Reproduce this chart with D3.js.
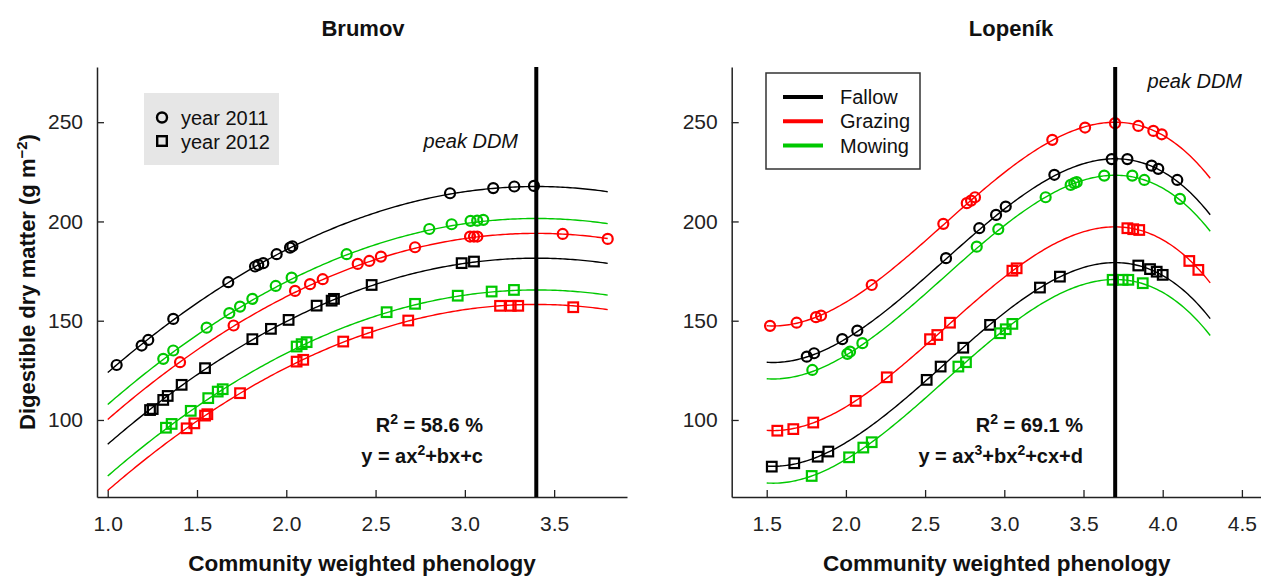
<!DOCTYPE html>
<html>
<head>
<meta charset="utf-8">
<script src="https://cdn.jsdelivr.net/npm/d3@7/dist/d3.min.js"></script>
<style>
  html, body { margin: 0; padding: 0; background: #fff; }
  svg { display: block; font-family: "Liberation Sans", Arial, sans-serif; }
</style>
</head>
<body>
<svg id="chart" width="1261" height="576"></svg>
<script>
// ---- Observations: [phenology, digestible dry matter] ----
const brumovFallow2011 = [[1.05,127.7],[1.19,137.5],[1.227,140.3],[1.367,150.9],[1.675,169.4],[1.825,177.3],[1.843,178.1],[1.871,179.0],[1.946,183.5],[2.021,186.8],[2.034,187.5],[2.917,214.2],[3.159,216.8],[3.277,217.6],[3.387,217.9]];
const brumovMowing2011 = [[1.311,130.8],[1.367,135.0],[1.554,146.5],[1.681,153.8],[1.741,157.1],[1.81,161.0],[1.941,167.5],[2.03,171.7],[2.338,183.5],[2.801,196.2],[2.926,198.6],[3.032,200.3],[3.069,200.4],[3.103,200.8]];
const brumovGrazing2011 = [[1.405,129.1],[1.705,147.6],[2.049,165.0],[2.133,168.4],[2.204,170.9],[2.4,178.6],[2.465,180.1],[2.53,182.3],[2.721,187.0],[3.029,192.4],[3.051,192.4],[3.07,192.4],[3.548,193.7],[3.8,191.2]];
const brumovFallow2012 = [[1.237,105.0],[1.252,105.5],[1.311,110.1],[1.336,112.1],[1.414,117.7],[1.545,126.1],[1.81,140.7],[1.914,145.9],[2.013,150.4],[2.17,157.6],[2.254,160.1],[2.267,161.0],[2.478,168.0],[2.982,179.0],[3.051,179.8]];
const brumovMowing2012 = [[1.326,96.1],[1.358,98.0],[1.465,104.6],[1.563,111.0],[1.616,114.3],[1.644,115.5],[2.058,137.0],[2.086,138.2],[2.114,139.2],[2.562,154.3],[2.721,158.5],[2.96,162.6],[3.15,164.7],[3.275,165.5]];
const brumovGrazing2012 = [[1.442,95.8],[1.485,98.3],[1.545,102.2],[1.558,102.9],[1.741,113.5],[2.058,129.4],[2.095,130.3],[2.319,139.5],[2.454,144.0],[2.683,150.1],[3.197,157.5],[3.257,157.5],[3.299,157.5],[3.607,156.8]];

const lopenikGrazing2011 = [[1.521,147.4],[1.689,149.0],[1.811,151.8],[1.843,152.6],[2.163,168.0],[2.615,198.8],[2.763,209.2],[2.79,210.5],[2.815,212.2],[3.303,241.1],[3.51,247.3],[3.699,249.5],[3.846,248.1],[3.941,245.6],[3.994,243.9]];
const lopenikFallow2011 = [[1.753,131.9],[1.799,133.6],[1.977,140.7],[2.072,145.0],[2.632,181.5],[2.842,196.6],[2.948,203.3],[3.009,207.5],[3.316,223.5],[3.678,231.4],[3.777,231.4],[3.93,228.1],[3.972,226.5],[4.092,220.9]];
const lopenikMowing2011 = [[1.788,125.2],[2.009,133.3],[2.026,134.4],[2.104,138.7],[2.826,187.3],[2.962,196.1],[3.261,212.2],[3.419,218.4],[3.442,219.3],[3.457,219.8],[3.631,223.1],[3.808,223.1],[3.884,220.9],[4.109,211.4]];
const lopenikGrazing2012 = [[1.567,94.6],[1.668,95.4],[1.794,98.7],[2.062,109.6],[2.258,121.5],[2.531,140.7],[2.577,142.8],[2.657,149.0],[3.051,175.2],[3.078,176.4],[3.777,196.6],[3.814,196.1],[3.852,195.7],[4.168,180.1],[4.225,175.6]];
const lopenikFallow2012 = [[1.532,76.5],[1.674,78.2],[1.822,81.5],[1.889,84.1],[2.51,120.2],[2.598,126.9],[2.741,136.4],[2.91,147.9],[3.225,166.7],[3.351,172.2],[3.846,177.8],[3.92,176.0],[3.962,174.7],[4.0,173.1]];
const lopenikMowing2012 = [[1.784,71.8],[2.02,81.2],[2.11,86.1],[2.163,88.8],[2.71,126.9],[2.758,129.1],[2.973,143.7],[3.009,145.7],[3.051,148.4],[3.684,170.6],[3.747,170.6],[3.783,170.6],[3.874,168.9]];

// ---- Fitted models ----
// Brumov: y = a x^2 + b x + c   (shared a, b; c per treatment/year)
const brumovSlopeTerms = [-16.27, 110.64];              // a, b
const brumovIntercepts = [29.5, 13.4, 5.9, -6.6, -22.6, -29.9]; // F11, M11, G11, F12, M12, G12
const brumovCurveSpan = [1.0, 3.8];
// Lopeník: y = a x^3 + b x^2 + c x + d
const lopenikSlopeTerms = [-20.4, 160.37, -348.94];     // a, b, c
const lopenikIntercepts = [378.9, 360.5, 352.2, 326.2, 308.2, 299.7]; // G11, F11, M11, G12, F12, M12
const lopenikCurveSpan = [1.5, 4.3];

const peakDDM = [3.4, 3.7];
const yTicks = [100, 150, 200, 250];
const brumovXTicks = [1.0, 1.5, 2.0, 2.5, 3.0, 3.5];
const lopenikXTicks = [1.5, 2.0, 2.5, 3.0, 3.5, 4.0, 4.5];
const treatments = ["Fallow", "Grazing", "Mowing"];
const years = ["year 2011", "year 2012"];
const colors = { Fallow: "#000000", Grazing: "#ff0000", Mowing: "#00c800" };

const svg = d3.select("#chart");
const y = d3.scaleLinear().domain([61.2, 277.8]).range([497, 67]);

const panels = [
  {
    title: "Brumov", titleX: 363,
    x: d3.scaleLinear().domain([0.94, 3.908]).range([97, 627]),
    ticks: brumovXTicks, peak: peakDDM[0],
    span: brumovCurveSpan,
    series: [
      { t: "Fallow", yr: 2011, pts: brumovFallow2011, c: brumovIntercepts[0] },
      { t: "Mowing", yr: 2011, pts: brumovMowing2011, c: brumovIntercepts[1] },
      { t: "Grazing", yr: 2011, pts: brumovGrazing2011, c: brumovIntercepts[2] },
      { t: "Fallow", yr: 2012, pts: brumovFallow2012, c: brumovIntercepts[3] },
      { t: "Mowing", yr: 2012, pts: brumovMowing2012, c: brumovIntercepts[4] },
      { t: "Grazing", yr: 2012, pts: brumovGrazing2012, c: brumovIntercepts[5] }
    ],
    model: (x, c) => brumovSlopeTerms[0] * x * x + brumovSlopeTerms[1] * x + c
  },
  {
    title: "Lopeník", titleX: 1011,
    x: d3.scaleLinear().domain([1.279, 4.625]).range([731.7, 1261.7]),
    ticks: lopenikXTicks, peak: peakDDM[1],
    span: lopenikCurveSpan,
    series: [
      { t: "Grazing", yr: 2011, pts: lopenikGrazing2011, c: lopenikIntercepts[0] },
      { t: "Fallow", yr: 2011, pts: lopenikFallow2011, c: lopenikIntercepts[1] },
      { t: "Mowing", yr: 2011, pts: lopenikMowing2011, c: lopenikIntercepts[2] },
      { t: "Grazing", yr: 2012, pts: lopenikGrazing2012, c: lopenikIntercepts[3] },
      { t: "Fallow", yr: 2012, pts: lopenikFallow2012, c: lopenikIntercepts[4] },
      { t: "Mowing", yr: 2012, pts: lopenikMowing2012, c: lopenikIntercepts[5] }
    ],
    model: (x, d) => lopenikSlopeTerms[0] * x * x * x + lopenikSlopeTerms[1] * x * x + lopenikSlopeTerms[2] * x + d
  }
];

function styleAxis(g) {
  g.selectAll(".domain").attr("stroke", "#222").attr("stroke-width", 1.5);
  g.selectAll(".tick line").attr("stroke", "#222").attr("stroke-width", 1.3);
  g.selectAll(".tick text").attr("fill", "#222").style("font-size", "21px")
    .style("font-family", "'Liberation Sans', Arial, sans-serif");
}

panels.forEach(p => {
  const x = p.x;
  const [x0, x1] = x.range();
  const g = svg.append("g");

  // axes (inward ticks, L-shaped frame)
  g.append("g").attr("transform", `translate(0,497)`)
    .call(d3.axisBottom(x).tickValues(p.ticks).tickFormat(d3.format(".1f"))
      .tickSizeInner(-7).tickSizeOuter(0).tickPadding(19))
    .call(styleAxis);
  g.append("g").attr("transform", `translate(${x0},0)`)
    .call(d3.axisLeft(y).tickValues(yTicks).tickSizeInner(-7).tickSizeOuter(0).tickPadding(14))
    .call(styleAxis);

  // fitted curves
  const line = d3.line().x(d => x(d[0])).y(d => y(d[1]));
  p.series.forEach(s => {
    const xs = d3.range(p.span[0], p.span[1] + 1e-9, (p.span[1] - p.span[0]) / 200);
    g.append("path")
      .attr("d", line(xs.map(v => [v, p.model(v, s.c)])))
      .attr("fill", "none").attr("stroke", colors[s.t]).attr("stroke-width", 1.4);
  });

  // observations
  p.series.forEach(s => {
    const col = colors[s.t];
    if (s.yr === 2011) {
      g.selectAll(null).data(s.pts).enter().append("circle")
        .attr("cx", d => x(d[0])).attr("cy", d => y(d[1])).attr("r", 5)
        .attr("fill", "none").attr("stroke", col).attr("stroke-width", 2.2);
    } else {
      g.selectAll(null).data(s.pts).enter().append("rect")
        .attr("x", d => x(d[0]) - 4.8).attr("y", d => y(d[1]) - 4.8)
        .attr("width", 9.6).attr("height", 9.6)
        .attr("fill", "none").attr("stroke", col).attr("stroke-width", 2.2);
    }
  });

  // peak DDM marker
  g.append("line").attr("x1", x(p.peak)).attr("x2", x(p.peak)).attr("y1", 67).attr("y2", 497)
    .attr("stroke", "#000").attr("stroke-width", 4);

  // panel title
  svg.append("text").attr("x", p.titleX).attr("y", 36).attr("text-anchor", "middle")
    .style("font-size", "22px").style("font-weight", "bold").attr("fill", "#111").text(p.title);

  // x-axis title
  svg.append("text").attr("x", (x0 + x1) / 2).attr("y", 571).attr("text-anchor", "middle")
    .style("font-size", "22.5px").style("font-weight", "bold").attr("fill", "#111")
    .text("Community weighted phenology");
});

// peak DDM labels
svg.append("text").attr("x", 518).attr("y", 148).attr("text-anchor", "end")
  .style("font-size", "20px").style("font-style", "italic").attr("fill", "#111").text("peak DDM");
svg.append("text").attr("x", 1242).attr("y", 88).attr("text-anchor", "end")
  .style("font-size", "20px").style("font-style", "italic").attr("fill", "#111").text("peak DDM");

// fit statistics
function supText(xR, yB, parts) {
  const t = svg.append("text").attr("x", xR).attr("y", yB).attr("text-anchor", "end")
    .style("font-size", "20px").style("font-weight", "bold").attr("fill", "#111");
  let raised = false;
  parts.forEach(([s, sup]) => {
    if (sup) t.append("tspan").attr("dy", -8).style("font-size", "14px").text(s);
    else t.append("tspan").attr("dy", raised ? 8 : 0).text(s);
    raised = !!sup;
  });
}
supText(483, 432, [["R"], ["2", true], [" = 58.6 %"]]);
supText(483, 463, [["y = ax"], ["2", true], ["+bx+c"]]);
supText(1083, 432, [["R"], ["2", true], [" = 69.1 %"]]);
supText(1083, 463, [["y = ax"], ["3", true], ["+bx"], ["2", true], ["+cx+d"]]);

// y-axis title
const yt = svg.append("text").attr("transform", "translate(35,282) rotate(-90)")
  .attr("text-anchor", "middle").style("font-size", "22px").style("font-weight", "bold").attr("fill", "#111");
yt.append("tspan").text("Digestible dry matter (g m");
yt.append("tspan").attr("dy", -8).style("font-size", "15px").text("\u22122");
yt.append("tspan").attr("dy", 8).text(")");

// year legend (Brumov)
const lg1 = svg.append("g");
lg1.append("rect").attr("x", 144).attr("y", 93).attr("width", 135).attr("height", 72).attr("fill", "#e6e6e6");
lg1.append("circle").attr("cx", 162).attr("cy", 117.5).attr("r", 5)
  .attr("fill", "none").attr("stroke", "#000").attr("stroke-width", 2.4);
lg1.append("rect").attr("x", 157.2).attr("y", 136.2).attr("width", 9.6).attr("height", 9.6)
  .attr("fill", "none").attr("stroke", "#000").attr("stroke-width", 2.4);
years.forEach((yr, i) => {
  lg1.append("text").attr("x", 181).attr("y", 124.5 + i * 24).style("font-size", "20px").attr("fill", "#111").text(yr);
});

// treatment legend (Lopeník)
const lg2 = svg.append("g");
lg2.append("rect").attr("x", 766).attr("y", 73).attr("width", 154).attr("height", 96)
  .attr("fill", "#fff").attr("stroke", "#333").attr("stroke-width", 1.5);
treatments.forEach((t, i) => {
  const cy = 97 + i * 24.3;
  lg2.append("line").attr("x1", 783).attr("x2", 823).attr("y1", cy).attr("y2", cy)
    .attr("stroke", colors[t]).attr("stroke-width", 4);
  lg2.append("text").attr("x", 840).attr("y", cy + 7).style("font-size", "20px").attr("fill", "#111").text(t);
});
</script>
</body>
</html>
